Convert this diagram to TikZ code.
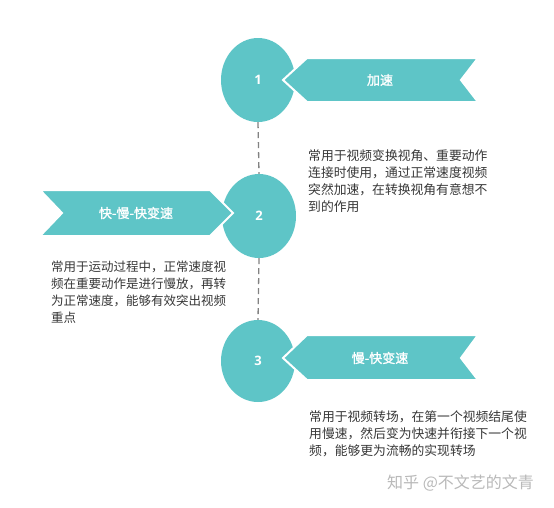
\documentclass[tikz,border=0pt]{standalone}
\usepackage{fontspec}
\setmainfont{Noto Sans CJK SC}
\newfontfamily\cjkb[FakeBold=1.5]{Noto Sans CJK SC}
\newfontfamily\numf{Open Sans}
\usetikzlibrary{shapes.geometric}
\definecolor{teal1}{RGB}{94,197,199}
\definecolor{txt}{RGB}{55,55,55}
\definecolor{dashc}{RGB}{130,130,130}
\definecolor{wm}{RGB}{185,185,185}
\begin{document}
\begin{tikzpicture}[x=1pt,y=-1pt,
  dot/.style={ellipse, fill=teal1, minimum width=74pt, minimum height=84pt, inner sep=0pt,
    text=white, font=\numf\bfseries\fontsize{13}{15}\selectfont},
  banner/.style={fill=teal1, draw=white, line width=2pt, line join=miter},
  btext/.style={text=white, font=\cjkb\fontsize{13}{15}\selectfont, inner sep=0pt},
  body/.style={text=txt, font=\fontsize{12.8}{17}\selectfont, align=left, anchor=north west, inner sep=0pt},
  link/.style={draw=dashc, line width=1.3pt, dash pattern=on 6pt off 4pt}]
\fill[white] (0,0) rectangle (554,507);
\useasboundingbox (0,0) rectangle (554,507);
% circles
\node[dot] (c1) at (258,80) {1};
\node[dot] (c2) at (259,216) {2};
\node[dot, minimum height=82pt] (c3) at (258,361) {3};
% dashed connectors
\draw[link] (c1.south) -- (c2.north);
\draw[link] (c2.south) -- (c3.north);
% banners
\draw[banner] (307,58) -- (478,58) -- (461,80) -- (478,102) -- (307,102) -- (283,80) -- cycle;
\node[btext] (b1) at (380,80) {加速};
\draw[banner] (40,190) -- (210,190) -- (233,213) -- (210,236) -- (40,236) -- (62,213) -- cycle;
\node[btext] (b2) at (136,213) {快-慢-快变速};
\draw[banner] (307,335) -- (478,335) -- (461,358) -- (478,380) -- (307,380) -- (283,358) -- cycle;
\node[btext] (b3) at (380,358) {慢-快变速};
% texts
\node[body] (t1) at (308,149) {常用于视频变换视角、重要动作\\连接时使用，通过正常速度视频\\突然加速，在转换视角有意想不\\到的作用};
\node[body, font=\fontsize{12.5}{16.8}\selectfont] (t2) at (51,261) {常用于运动过程中，正常速度视\\频在重要动作是进行慢放，再转\\为正常速度，能够有效突出视频\\重点};
\node[body] (t3) at (309,410) {常用于视频转场，在第一个视频结尾使\\用慢速，然后变为快速并衔接下一个视\\频，能够更为流畅的实现转场};
\node[text=wm, font=\fontsize{16}{18}\selectfont, anchor=west, inner sep=0pt] (wmk) at (387,483) {知乎 @不文艺的文青};
\end{tikzpicture}
\end{document}
